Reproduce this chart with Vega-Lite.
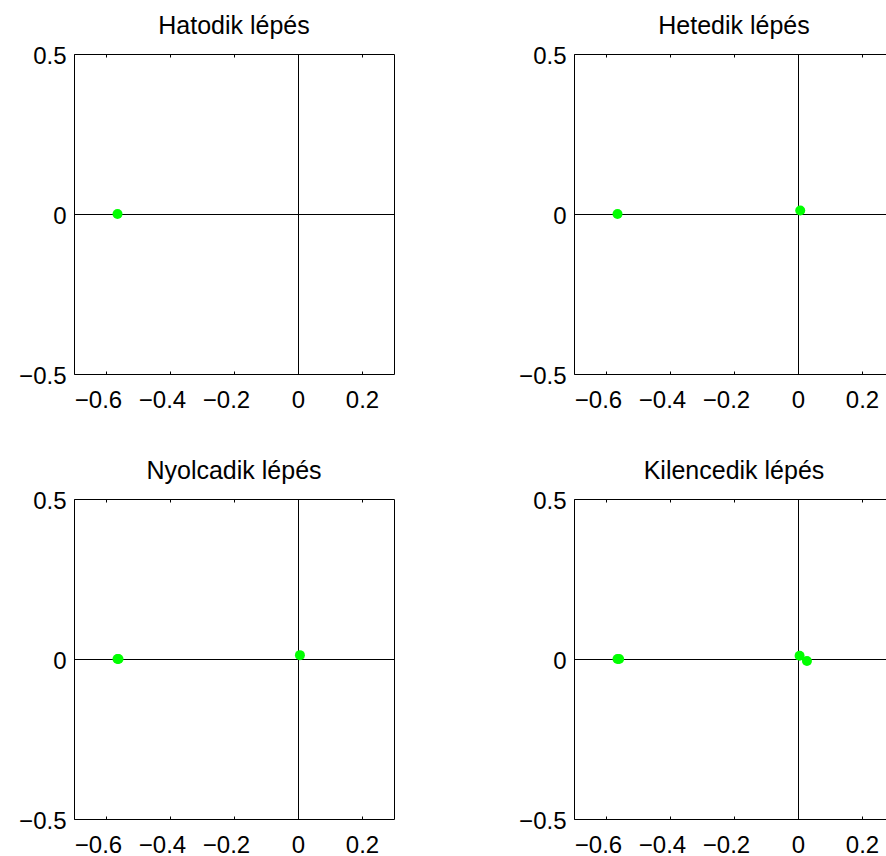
{
  "$schema": "https://vega.github.io/schema/vega-lite/v6.json",
  "padding": {"left": 18, "top": 13, "right": 0, "bottom": 0},
  "background": "white",
  "bounds": "flush",
  "columns": 2,
  "spacing": {"row": 125, "column": 180},
  "data": {"values": [
    {"panel": "Hatodik lépés", "x": -0.564, "y": 0.0},
    {"panel": "Hetedik lépés", "x": -0.564, "y": 0.0},
    {"panel": "Hetedik lépés", "x": 0.007, "y": 0.011},
    {"panel": "Nyolcadik lépés", "x": -0.564, "y": 0.0},
    {"panel": "Nyolcadik lépés", "x": -0.561, "y": 0.0},
    {"panel": "Nyolcadik lépés", "x": 0.006, "y": 0.012},
    {"panel": "Kilencedik lépés", "x": -0.564, "y": 0.0},
    {"panel": "Kilencedik lépés", "x": -0.559, "y": 0.0},
    {"panel": "Kilencedik lépés", "x": 0.005, "y": 0.01},
    {"panel": "Kilencedik lépés", "x": 0.028, "y": -0.006}
  ]},
  "concat": [
    {
      "title": "Hatodik lépés",
      "width": 320, "height": 320,
      "transform": [{"filter": "datum.panel == 'Hatodik lépés'"}],
      "layer": [
        {"mark": {"type": "rule", "color": "black", "strokeWidth": 1, "yOffset": 0.5},
         "encoding": {"y": {"datum": 0, "type": "quantitative", "scale": {"domain": [-0.5, 0.5], "nice": false}, "axis": null}}},
        {"mark": {"type": "rule", "color": "black", "strokeWidth": 1, "xOffset": 0.5},
         "encoding": {"x": {"datum": 0, "type": "quantitative", "scale": {"domain": [-0.7, 0.3], "nice": false},
           "axis": {"orient": "top", "labels": false, "domain": false, "values": [-0.6, -0.4, -0.2, 0, 0.2], "title": null}}}},
        {"mark": {"type": "circle", "color": "#00ff00", "size": 100, "opacity": 1},
         "encoding": {
           "x": {"field": "x", "type": "quantitative", "scale": {"domain": [-0.7, 0.3], "nice": false},
             "axis": {"orient": "bottom", "values": [-0.6, -0.4, -0.2, 0, 0.2], "format": "~g", "title": null, "labelPadding": 17,
               "labelOffset": {"condition": {"test": "datum.value < 0", "value": -8}, "value": 0}}},
           "y": {"field": "y", "type": "quantitative", "scale": {"domain": [-0.5, 0.5], "nice": false},
             "axis": {"orient": "left", "values": [-0.5, 0, 0.5], "format": "~g", "title": null, "labelPadding": 11, "labelOffset": 2}}}}
      ],
      "resolve": {"axis": {"x": "independent", "y": "independent"}}
    },
    {
      "title": "Hetedik lépés",
      "width": 320, "height": 320,
      "transform": [{"filter": "datum.panel == 'Hetedik lépés'"}],
      "layer": [
        {"mark": {"type": "rule", "color": "black", "strokeWidth": 1, "yOffset": 0.5},
         "encoding": {"y": {"datum": 0, "type": "quantitative", "scale": {"domain": [-0.5, 0.5], "nice": false}, "axis": null}}},
        {"mark": {"type": "rule", "color": "black", "strokeWidth": 1, "xOffset": 0.5},
         "encoding": {"x": {"datum": 0, "type": "quantitative", "scale": {"domain": [-0.7, 0.3], "nice": false},
           "axis": {"orient": "top", "labels": false, "domain": false, "values": [-0.6, -0.4, -0.2, 0, 0.2], "title": null}}}},
        {"mark": {"type": "circle", "color": "#00ff00", "size": 100, "opacity": 1},
         "encoding": {
           "x": {"field": "x", "type": "quantitative", "scale": {"domain": [-0.7, 0.3], "nice": false},
             "axis": {"orient": "bottom", "values": [-0.6, -0.4, -0.2, 0, 0.2], "format": "~g", "title": null, "labelPadding": 17,
               "labelOffset": {"condition": {"test": "datum.value < 0", "value": -8}, "value": 0}}},
           "y": {"field": "y", "type": "quantitative", "scale": {"domain": [-0.5, 0.5], "nice": false},
             "axis": {"orient": "left", "values": [-0.5, 0, 0.5], "format": "~g", "title": null, "labelPadding": 11, "labelOffset": 2}}}}
      ],
      "resolve": {"axis": {"x": "independent", "y": "independent"}}
    },
    {
      "title": "Nyolcadik lépés",
      "width": 320, "height": 320,
      "transform": [{"filter": "datum.panel == 'Nyolcadik lépés'"}],
      "layer": [
        {"mark": {"type": "rule", "color": "black", "strokeWidth": 1, "yOffset": 0.5},
         "encoding": {"y": {"datum": 0, "type": "quantitative", "scale": {"domain": [-0.5, 0.5], "nice": false}, "axis": null}}},
        {"mark": {"type": "rule", "color": "black", "strokeWidth": 1, "xOffset": 0.5},
         "encoding": {"x": {"datum": 0, "type": "quantitative", "scale": {"domain": [-0.7, 0.3], "nice": false},
           "axis": {"orient": "top", "labels": false, "domain": false, "values": [-0.6, -0.4, -0.2, 0, 0.2], "title": null}}}},
        {"mark": {"type": "circle", "color": "#00ff00", "size": 100, "opacity": 1},
         "encoding": {
           "x": {"field": "x", "type": "quantitative", "scale": {"domain": [-0.7, 0.3], "nice": false},
             "axis": {"orient": "bottom", "values": [-0.6, -0.4, -0.2, 0, 0.2], "format": "~g", "title": null, "labelPadding": 17,
               "labelOffset": {"condition": {"test": "datum.value < 0", "value": -8}, "value": 0}}},
           "y": {"field": "y", "type": "quantitative", "scale": {"domain": [-0.5, 0.5], "nice": false},
             "axis": {"orient": "left", "values": [-0.5, 0, 0.5], "format": "~g", "title": null, "labelPadding": 11, "labelOffset": 2}}}}
      ],
      "resolve": {"axis": {"x": "independent", "y": "independent"}}
    },
    {
      "title": "Kilencedik lépés",
      "width": 320, "height": 320,
      "transform": [{"filter": "datum.panel == 'Kilencedik lépés'"}],
      "layer": [
        {"mark": {"type": "rule", "color": "black", "strokeWidth": 1, "yOffset": 0.5},
         "encoding": {"y": {"datum": 0, "type": "quantitative", "scale": {"domain": [-0.5, 0.5], "nice": false}, "axis": null}}},
        {"mark": {"type": "rule", "color": "black", "strokeWidth": 1, "xOffset": 0.5},
         "encoding": {"x": {"datum": 0, "type": "quantitative", "scale": {"domain": [-0.7, 0.3], "nice": false},
           "axis": {"orient": "top", "labels": false, "domain": false, "values": [-0.6, -0.4, -0.2, 0, 0.2], "title": null}}}},
        {"mark": {"type": "circle", "color": "#00ff00", "size": 100, "opacity": 1},
         "encoding": {
           "x": {"field": "x", "type": "quantitative", "scale": {"domain": [-0.7, 0.3], "nice": false},
             "axis": {"orient": "bottom", "values": [-0.6, -0.4, -0.2, 0, 0.2], "format": "~g", "title": null, "labelPadding": 17,
               "labelOffset": {"condition": {"test": "datum.value < 0", "value": -8}, "value": 0}}},
           "y": {"field": "y", "type": "quantitative", "scale": {"domain": [-0.5, 0.5], "nice": false},
             "axis": {"orient": "left", "values": [-0.5, 0, 0.5], "format": "~g", "title": null, "labelPadding": 11, "labelOffset": 2}}}}
      ],
      "resolve": {"axis": {"x": "independent", "y": "independent"}}
    }
  ],
  "config": {
    "font": "Liberation Sans",
    "view": {"stroke": "black", "strokeWidth": 1},
    "axis": {
      "grid": false, "domain": false, "ticks": true, "tickSize": -3, "tickColor": "black", "tickWidth": 1,
      "labelFont": "Liberation Sans", "labelFontSize": 24, "labelColor": "black"
    },
    "title": {"font": "Liberation Sans", "fontSize": 25, "fontWeight": "normal", "color": "black",
      "baseline": "alphabetic", "offset": 5, "anchor": "middle"}
  }
}
